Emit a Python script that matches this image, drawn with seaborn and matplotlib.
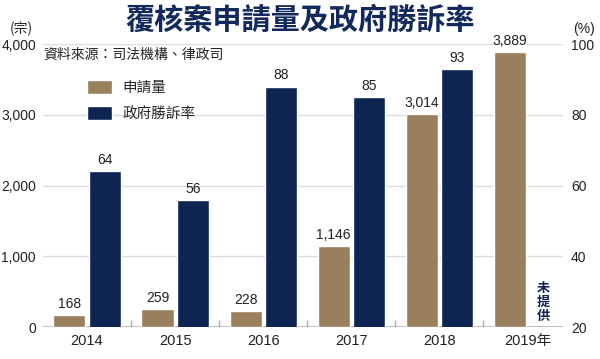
import matplotlib
matplotlib.use("Agg")
import matplotlib.pyplot as plt
import seaborn as sns
import pandas as pd
from matplotlib.patches import Patch

years = ["2014", "2015", "2016", "2017", "2018", "2019年"]
applications = [168, 259, 228, 1146, 3014, 3889]
win_rate = [64, 56, 88, 85, 93]  # 2019 not provided
left_ticks = [0, 1000, 2000, 3000, 4000]
right_ticks = [20, 40, 60, 80, 100]
series = ["申請量", "政府勝訴率"]

BROWN = "#9A7F5C"
NAVY = "#0E2452"

sns.set_theme(style="white")
plt.rcParams['font.family'] = ['Liberation Sans', 'Noto Sans CJK TC', 'DejaVu Sans']
CJK = ['Noto Sans CJK TC', 'DejaVu Sans']
NUM = ['Liberation Sans', 'Noto Sans CJK TC']

df_app = pd.DataFrame({"year": years, "value": applications, "series": series[0]})
df_rate = pd.DataFrame({"year": years[:len(win_rate)], "value": win_rate, "series": series[1]})

fig = plt.figure(figsize=(6, 3.59), dpi=100)
ax1 = fig.add_axes([0.0717, 0.0891, 0.866, 0.788])
ax2 = ax1.twinx()

pal = {series[0]: BROWN, series[1]: NAVY}
sns.barplot(data=df_app, x="year", y="value", hue="series", hue_order=series,
            order=years, palette=pal, width=0.8, gap=0.09, dodge=True, ax=ax1,
            legend=False, saturation=1, errorbar=None)
sns.barplot(data=df_rate, x="year", y="value", hue="series", hue_order=series,
            order=years, palette=pal, width=0.8, gap=0.09, dodge=True, ax=ax2,
            legend=False, saturation=1, errorbar=None)

ax1.set_xlim(-0.5, 5.4)
ax1.set_ylim(0, 4000)
ax2.set_ylim(20, 100)
ax1.set_yticks(left_ticks)
ax1.set_yticklabels([f"{v:,}" for v in left_ticks])
ax2.set_yticks(right_ticks)
ax2.set_yticklabels([str(v) for v in right_ticks])

for a in (ax1, ax2):
    for s in a.spines.values():
        s.set_visible(False)
    a.set_xlabel("")
    a.set_ylabel("")

ax1.yaxis.grid(True, color="#dddddd", linewidth=1)
ax1.set_axisbelow(True)
ax1.axhline(0, color="#aaaaaa", linewidth=1.2, zorder=0.5)
ax1.tick_params(axis="y", length=0, labelsize=10, pad=5, colors="#222222")
ax2.tick_params(axis="y", length=0, labelsize=10, pad=6, colors="#222222")
ax1.tick_params(axis="x", which="major", length=0, labelsize=10.5, pad=5, colors="#222222")
ax1.set_xticks([i + 0.5 for i in range(len(years) - 1)], minor=True)
ax1.tick_params(axis="x", which="minor", direction="in", length=5, width=1, color="#aaaaaa", bottom=True)
for lbl in ax1.get_xticklabels():
    lbl.set_fontfamily(NUM)

for c in ax1.containers:
    ax1.bar_label(c, fmt="{:,.0f}", padding=3, fontsize=10, color="#222222")
for c in ax2.containers:
    ax2.bar_label(c, fmt="{:.0f}", padding=3, fontsize=10, color="#222222")

# not provided marker
ax1.text(5.18, 360, "未\n提\n供", ha="center", va="center", fontsize=9.5,
         fontweight="bold", color=NAVY, family=CJK, linespacing=1.0)

# title & notes
fig.text(0.5, 0.945, "覆核案申請量及政府勝訴率", ha="center", va="center",
         fontsize=21, fontweight="bold", color="#13295E", family=CJK)
fig.text(0.035, 0.92, "(宗)", ha="center", va="center", fontsize=10, color="#222222", family=CJK)
fig.text(0.973, 0.92, "(%)", ha="center", va="center", fontsize=10, color="#222222")
fig.text(0.073, 0.847, "資料來源：司法機構、律政司", ha="left", va="center",
         fontsize=10, color="#222222", family=CJK)

handles = [Patch(facecolor=BROWN), Patch(facecolor=NAVY)]
leg = ax2.legend(handles, series, loc="upper left", bbox_to_anchor=(0.06, 0.92),
                 frameon=False, handlelength=1.7, handleheight=1.1, handletextpad=0.7,
                 labelspacing=0.75, prop={'family': CJK, 'size': 10.5})

fig.savefig("out.png", dpi=100)
